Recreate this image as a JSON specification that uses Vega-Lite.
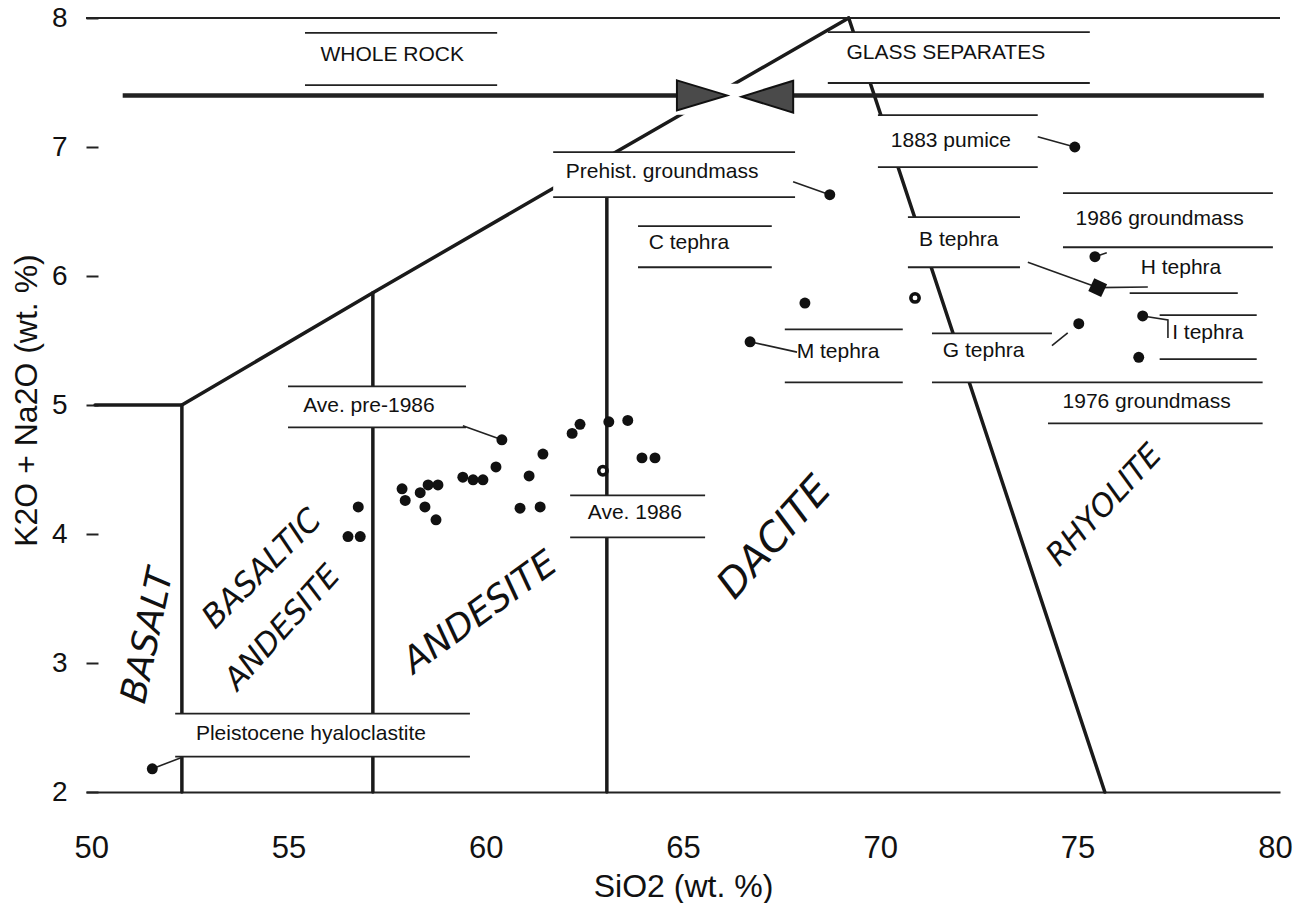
{
  "$schema": "https://vega.github.io/schema/vega-lite/v6.json",
  "width": 1194,
  "height": 774,
  "autosize": {"type": "none"},
  "padding": {"left": 86, "top": 18, "right": 25, "bottom": 111},
  "background": "white",
  "config": {"view": {"stroke": null}},
  "datasets": {
    "bounds": [
      {"seg": "trachy", "ord": 1, "sio2": 50.1, "total": 5.0},
      {"seg": "trachy", "ord": 2, "sio2": 52.3, "total": 5.0},
      {"seg": "trachy", "ord": 3, "sio2": 57.14, "total": 5.87},
      {"seg": "trachy", "ord": 4, "sio2": 63.07, "total": 6.92},
      {"seg": "trachy", "ord": 5, "sio2": 69.2, "total": 8.0},
      {"seg": "v52", "ord": 1, "sio2": 52.3, "total": 5.0},
      {"seg": "v52", "ord": 2, "sio2": 52.3, "total": 2.0},
      {"seg": "v57", "ord": 1, "sio2": 57.14, "total": 5.87},
      {"seg": "v57", "ord": 2, "sio2": 57.14, "total": 2.0},
      {"seg": "v63", "ord": 1, "sio2": 63.07, "total": 6.92},
      {"seg": "v63", "ord": 2, "sio2": 63.07, "total": 2.0},
      {"seg": "rhy", "ord": 1, "sio2": 69.2, "total": 8.0},
      {"seg": "rhy", "ord": 2, "sio2": 75.69, "total": 2.0}
    ],
    "masks": [
      {"box": "WHOLE ROCK", "sio2": 55.42, "sio2_end": 60.29, "total": 7.48, "total_end": 7.884},
      {"box": "GLASS SEPARATES", "sio2": 68.67, "sio2_end": 75.31, "total": 7.496, "total_end": 7.891},
      {"box": "1883 pumice", "sio2": 69.94, "sio2_end": 73.99, "total": 6.844, "total_end": 7.247},
      {"box": "Prehist. groundmass", "sio2": 61.71, "sio2_end": 67.84, "total": 6.611, "total_end": 6.96},
      {"box": "C tephra", "sio2": 63.86, "sio2_end": 67.25, "total": 6.068, "total_end": 6.386},
      {"box": "B tephra", "sio2": 70.7, "sio2_end": 73.54, "total": 6.068, "total_end": 6.456},
      {"box": "1986 groundmass", "sio2": 74.63, "sio2_end": 79.95, "total": 6.223, "total_end": 6.642},
      {"box": "H tephra", "sio2": 76.32, "sio2_end": 79.06, "total": 5.867, "total_end": 6.223},
      {"box": "I tephra", "sio2": 77.08, "sio2_end": 79.54, "total": 5.355, "total_end": 5.696},
      {"box": "G tephra", "sio2": 71.31, "sio2_end": 74.35, "total": 5.176, "total_end": 5.556},
      {"box": "1976 groundmass", "sio2": 74.25, "sio2_end": 79.69, "total": 4.858, "total_end": 5.176},
      {"box": "M tephra", "sio2": 67.58, "sio2_end": 70.57, "total": 5.176, "total_end": 5.587},
      {"box": "Ave. pre-1986", "sio2": 54.99, "sio2_end": 59.5, "total": 4.827, "total_end": 5.145},
      {"box": "Ave. 1986", "sio2": 62.14, "sio2_end": 65.56, "total": 3.974, "total_end": 4.3},
      {"box": "Pleistocene hyaloclastite", "sio2": 52.13, "sio2_end": 59.6, "total": 2.275, "total_end": 2.608},
      {"box": "arrow gap", "sio2": 64.85, "sio2_end": 67.8, "total": 7.25, "total_end": 7.49}
    ],
    "brackets": [
      {"sio2": 49.87, "sio2_end": 80.13, "total": 8.0},
      {"sio2": 55.42, "sio2_end": 60.29, "total": 7.884}, {"sio2": 55.42, "sio2_end": 60.29, "total": 7.48},
      {"sio2": 68.67, "sio2_end": 75.31, "total": 7.891}, {"sio2": 68.67, "sio2_end": 75.31, "total": 7.496},
      {"sio2": 69.94, "sio2_end": 73.99, "total": 7.247}, {"sio2": 69.94, "sio2_end": 73.99, "total": 6.844},
      {"sio2": 61.71, "sio2_end": 67.84, "total": 6.96}, {"sio2": 61.71, "sio2_end": 67.84, "total": 6.611},
      {"sio2": 63.86, "sio2_end": 67.25, "total": 6.386}, {"sio2": 63.86, "sio2_end": 67.25, "total": 6.068},
      {"sio2": 70.7, "sio2_end": 73.54, "total": 6.456}, {"sio2": 70.7, "sio2_end": 73.54, "total": 6.068},
      {"sio2": 74.63, "sio2_end": 79.95, "total": 6.642}, {"sio2": 74.63, "sio2_end": 79.95, "total": 6.223},
      {"sio2": 76.32, "sio2_end": 79.06, "total": 5.867},
      {"sio2": 77.08, "sio2_end": 79.54, "total": 5.696}, {"sio2": 77.08, "sio2_end": 79.54, "total": 5.355},
      {"sio2": 71.31, "sio2_end": 74.35, "total": 5.556}, {"sio2": 71.31, "sio2_end": 79.69, "total": 5.176},
      {"sio2": 74.25, "sio2_end": 79.69, "total": 4.858},
      {"sio2": 67.58, "sio2_end": 70.57, "total": 5.587}, {"sio2": 67.58, "sio2_end": 70.57, "total": 5.176},
      {"sio2": 54.99, "sio2_end": 59.5, "total": 5.145}, {"sio2": 54.99, "sio2_end": 59.5, "total": 4.827},
      {"sio2": 62.14, "sio2_end": 65.56, "total": 4.3}, {"sio2": 62.14, "sio2_end": 65.56, "total": 3.974},
      {"sio2": 52.13, "sio2_end": 59.6, "total": 2.608}, {"sio2": 52.13, "sio2_end": 59.6, "total": 2.275}
    ],
    "arrows": [
      {"sio2": 50.8, "sio2_end": 64.9, "total": 7.4},
      {"sio2": 67.75, "sio2_end": 79.72, "total": 7.4}
    ],
    "heads": [
      {"dir": "right", "sio2": 65.48, "total": 7.4},
      {"dir": "left", "sio2": 67.14, "total": 7.39}
    ],
    "leaders": [
      {"id": "pleist", "ord": 1, "sio2": 51.55, "total": 2.18}, {"id": "pleist", "ord": 2, "sio2": 52.31, "total": 2.27},
      {"id": "pre86", "ord": 1, "sio2": 59.42, "total": 4.84}, {"id": "pre86", "ord": 2, "sio2": 60.41, "total": 4.73},
      {"id": "prehist", "ord": 1, "sio2": 67.79, "total": 6.73}, {"id": "prehist", "ord": 2, "sio2": 68.72, "total": 6.63},
      {"id": "p1883", "ord": 1, "sio2": 73.99, "total": 7.08}, {"id": "p1883", "ord": 2, "sio2": 74.93, "total": 7.0},
      {"id": "btephra", "ord": 1, "sio2": 73.74, "total": 6.107}, {"id": "btephra", "ord": 2, "sio2": 75.51, "total": 5.91},
      {"id": "htephra", "ord": 1, "sio2": 75.51, "total": 5.91}, {"id": "htephra", "ord": 2, "sio2": 76.78, "total": 5.915},
      {"id": "gm1986", "ord": 1, "sio2": 75.44, "total": 6.15}, {"id": "gm1986", "ord": 2, "sio2": 75.74, "total": 6.18},
      {"id": "itephra", "ord": 1, "sio2": 76.65, "total": 5.69}, {"id": "itephra", "ord": 2, "sio2": 77.29, "total": 5.66}, {"id": "itephra", "ord": 3, "sio2": 77.29, "total": 5.52},
      {"id": "mtephra", "ord": 1, "sio2": 66.7, "total": 5.49}, {"id": "mtephra", "ord": 2, "sio2": 67.89, "total": 5.41},
      {"id": "gtephra", "ord": 1, "sio2": 74.35, "total": 5.46}, {"id": "gtephra", "ord": 2, "sio2": 74.75, "total": 5.56}
    ],
    "points": [
      {"sio2": 56.77, "total": 4.21, "kind": "filled"},
      {"sio2": 56.51, "total": 3.98, "kind": "filled"},
      {"sio2": 56.82, "total": 3.98, "kind": "filled"},
      {"sio2": 57.88, "total": 4.35, "kind": "filled"},
      {"sio2": 57.96, "total": 4.26, "kind": "filled"},
      {"sio2": 58.34, "total": 4.32, "kind": "filled"},
      {"sio2": 58.54, "total": 4.38, "kind": "filled"},
      {"sio2": 58.79, "total": 4.38, "kind": "filled"},
      {"sio2": 58.46, "total": 4.21, "kind": "filled"},
      {"sio2": 58.74, "total": 4.11, "kind": "filled"},
      {"sio2": 59.42, "total": 4.44, "kind": "filled"},
      {"sio2": 59.68, "total": 4.42, "kind": "filled"},
      {"sio2": 59.93, "total": 4.42, "kind": "filled"},
      {"sio2": 60.26, "total": 4.52, "kind": "filled"},
      {"sio2": 60.41, "total": 4.73, "kind": "filled"},
      {"sio2": 61.45, "total": 4.62, "kind": "filled"},
      {"sio2": 61.1, "total": 4.45, "kind": "filled"},
      {"sio2": 60.87, "total": 4.2, "kind": "filled"},
      {"sio2": 61.38, "total": 4.21, "kind": "filled"},
      {"sio2": 62.19, "total": 4.78, "kind": "filled"},
      {"sio2": 62.39, "total": 4.85, "kind": "filled"},
      {"sio2": 63.12, "total": 4.87, "kind": "filled"},
      {"sio2": 63.6, "total": 4.88, "kind": "filled"},
      {"sio2": 63.96, "total": 4.59, "kind": "filled"},
      {"sio2": 64.29, "total": 4.59, "kind": "filled"},
      {"sio2": 62.97, "total": 4.49, "kind": "half"},
      {"sio2": 51.55, "total": 2.18, "kind": "filled"},
      {"sio2": 66.7, "total": 5.49, "kind": "filled"},
      {"sio2": 68.09, "total": 5.79, "kind": "filled"},
      {"sio2": 68.72, "total": 6.63, "kind": "filled"},
      {"sio2": 70.88, "total": 5.83, "kind": "half"},
      {"sio2": 74.93, "total": 7.0, "kind": "filled"},
      {"sio2": 75.44, "total": 6.15, "kind": "filled"},
      {"sio2": 75.51, "total": 5.91, "kind": "square"},
      {"sio2": 75.03, "total": 5.63, "kind": "filled"},
      {"sio2": 76.65, "total": 5.69, "kind": "filled"},
      {"sio2": 76.55, "total": 5.37, "kind": "filled"}
    ],
    "labels": [
      {"text": "WHOLE ROCK", "sio2": 57.63, "total": 7.713},
      {"text": "GLASS  SEPARATES", "sio2": 71.66, "total": 7.73},
      {"text": "1883 pumice", "sio2": 71.79, "total": 7.05},
      {"text": "Prehist. groundmass", "sio2": 64.47, "total": 6.805},
      {"text": "C tephra", "sio2": 65.15, "total": 6.254},
      {"text": "B tephra", "sio2": 71.99, "total": 6.278},
      {"text": "1986 groundmass", "sio2": 77.08, "total": 6.44},
      {"text": "H tephra", "sio2": 77.62, "total": 6.06},
      {"text": "I tephra", "sio2": 78.3, "total": 5.556},
      {"text": "G tephra", "sio2": 72.62, "total": 5.417},
      {"text": "1976 groundmass", "sio2": 76.75, "total": 5.021},
      {"text": "M tephra", "sio2": 68.93, "total": 5.409},
      {"text": "Ave. pre-1986", "sio2": 57.04, "total": 4.99},
      {"text": "Ave. 1986", "sio2": 63.78, "total": 4.16},
      {"text": "Pleistocene hyaloclastite", "sio2": 55.57, "total": 2.453}
    ],
    "rocks": [
      {"field": "basalt", "text": "BASALT", "sio2": 51.44, "total": 3.21},
      {"field": "basaltic andesite 1", "text": "BASALTIC", "sio2": 54.33, "total": 3.73},
      {"field": "basaltic andesite 2", "text": "ANDESITE", "sio2": 54.86, "total": 3.27},
      {"field": "andesite", "text": "ANDESITE", "sio2": 59.86, "total": 3.39},
      {"field": "dacite", "text": "DACITE", "sio2": 67.33, "total": 3.97},
      {"field": "rhyolite", "text": "RHYOLITE", "sio2": 75.69, "total": 4.22}
    ]
  },
  "encoding": {
    "x": {"field": "sio2", "type": "quantitative", "title": "SiO2 (wt. %)",
      "scale": {"domain": [49.87, 80.13], "nice": false, "zero": false},
      "axis": {"values": [50, 55, 60, 65, 70, 75, 80], "grid": false, "ticks": false, "domain": true, "domainColor": "#222", "domainWidth": 2,
        "labelFont": "Liberation Sans", "labelFontSize": 31, "labelColor": "#111", "labelPadding": 65, "labelBaseline": "alphabetic", "labelFlush": false, "labelOverlap": false, "labelBound": false,
        "titleFont": "Liberation Sans", "titleFontSize": 32, "titleFontWeight": "normal", "titleColor": "#111", "titleBaseline": "alphabetic", "titleY": 104}},
    "y": {"field": "total", "type": "quantitative", "title": "K2O + Na2O (wt. %)",
      "scale": {"domain": [2, 8], "nice": false, "zero": false},
      "axis": {"values": [2, 3, 4, 5, 6, 7, 8], "grid": false, "domain": false, "ticks": true, "tickSize": -12, "tickWidth": 2, "tickColor": "#222",
        "labelFont": "Liberation Sans", "labelFontSize": 28, "labelColor": "#111", "labelPadding": 31, "labelFlush": false, "labelOverlap": false, "labelBound": false, "labelBaseline": "middle",
        "titleFont": "Liberation Sans", "titleFontSize": 32, "titleFontWeight": "normal", "titleColor": "#111", "titleAngle": 270, "titleX": -50, "titleY": 382, "titleAlign": "center", "titleBaseline": "alphabetic"}}
  },
  "layer": [
    {
      "data": {"name": "bounds"},
      "mark": {"type": "line", "color": "#1a1a1a", "strokeWidth": 3.5, "strokeCap": "round", "strokeJoin": "round"},
      "encoding": {
        "detail": {"field": "seg"},
        "order": {"field": "ord", "type": "quantitative"}
      }
    },
    {
      "data": {"name": "masks"},
      "mark": {"type": "rect", "fill": "white", "stroke": null},
      "encoding": {"x2": {"field": "sio2_end"}, "y2": {"field": "total_end"}}
    },
    {
      "data": {"name": "arrows"},
      "mark": {"type": "rule", "color": "#222", "strokeWidth": 4.5},
      "encoding": {"x2": {"field": "sio2_end"}}
    },
    {
      "data": {"name": "heads"},
      "transform": [{"filter": "datum.dir == 'right'"}],
      "mark": {"type": "point", "shape": "M-1,-0.6L1,0L-1,0.6Z", "size": 2500, "filled": true, "fill": "#4a4a4a", "stroke": "#111", "strokeWidth": 2, "opacity": 1},
      "encoding": {}
    },
    {
      "data": {"name": "heads"},
      "transform": [{"filter": "datum.dir == 'left'"}],
      "mark": {"type": "point", "shape": "M1,-0.62L-1,0L1,0.62Z", "size": 2650, "filled": true, "fill": "#4a4a4a", "stroke": "#111", "strokeWidth": 2, "opacity": 1},
      "encoding": {}
    },
    {
      "data": {"name": "brackets"},
      "mark": {"type": "rule", "color": "#222", "strokeWidth": 1.8},
      "encoding": {"x2": {"field": "sio2_end"}}
    },
    {
      "data": {"name": "leaders"},
      "mark": {"type": "line", "color": "#222", "strokeWidth": 1.6},
      "encoding": {
        "detail": {"field": "id"},
        "order": {"field": "ord", "type": "quantitative"}
      }
    },
    {
      "data": {"name": "points"},
      "transform": [{"filter": "datum.kind == 'filled'"}],
      "mark": {"type": "point", "shape": "circle", "filled": true, "color": "#111", "size": 120, "opacity": 1},
      "encoding": {}
    },
    {
      "data": {"name": "points"},
      "transform": [{"filter": "datum.kind == 'half'"}],
      "mark": {"type": "point", "shape": "circle", "filled": false, "color": "#111", "strokeWidth": 3.5, "size": 70, "opacity": 1},
      "encoding": {}
    },
    {
      "data": {"name": "points"},
      "transform": [{"filter": "datum.kind == 'square'"}],
      "mark": {"type": "point", "shape": "square", "filled": true, "color": "#111", "size": 200, "angle": 25, "opacity": 1},
      "encoding": {}
    },
    {
      "data": {"name": "labels"},
      "mark": {"type": "text", "font": "Liberation Sans", "fontSize": 21, "color": "#111", "align": "center", "baseline": "middle"},
      "encoding": {"text": {"field": "text"}}
    },
    {
      "data": {"name": "rocks"},
      "transform": [{"filter": "datum.field == 'basalt'"}],
      "mark": {"type": "text", "font": "DejaVu Sans", "fontStyle": "italic", "fontSize": 36, "angle": 282, "color": "#111", "align": "center", "baseline": "middle"},
      "encoding": {"text": {"field": "text"}}
    },
    {
      "data": {"name": "rocks"},
      "transform": [{"filter": "datum.field == 'basaltic andesite 1'"}],
      "mark": {"type": "text", "font": "DejaVu Sans", "fontStyle": "italic", "fontSize": 32, "angle": 315, "color": "#111", "align": "center", "baseline": "middle"},
      "encoding": {"text": {"field": "text"}}
    },
    {
      "data": {"name": "rocks"},
      "transform": [{"filter": "datum.field == 'basaltic andesite 2'"}],
      "mark": {"type": "text", "font": "DejaVu Sans", "fontStyle": "italic", "fontSize": 31, "angle": 312, "color": "#111", "align": "center", "baseline": "middle"},
      "encoding": {"text": {"field": "text"}}
    },
    {
      "data": {"name": "rocks"},
      "transform": [{"filter": "datum.field == 'andesite'"}],
      "mark": {"type": "text", "font": "DejaVu Sans", "fontStyle": "italic", "fontSize": 36, "angle": 324, "color": "#111", "align": "center", "baseline": "middle"},
      "encoding": {"text": {"field": "text"}}
    },
    {
      "data": {"name": "rocks"},
      "transform": [{"filter": "datum.field == 'dacite'"}],
      "mark": {"type": "text", "font": "DejaVu Sans", "fontStyle": "italic", "fontSize": 40, "angle": 312, "color": "#111", "align": "center", "baseline": "middle"},
      "encoding": {"text": {"field": "text"}}
    },
    {
      "data": {"name": "rocks"},
      "transform": [{"filter": "datum.field == 'rhyolite'"}],
      "mark": {"type": "text", "font": "DejaVu Sans", "fontStyle": "italic", "fontSize": 31, "angle": 313, "color": "#111", "align": "center", "baseline": "middle"},
      "encoding": {"text": {"field": "text"}}
    }
  ]
}
